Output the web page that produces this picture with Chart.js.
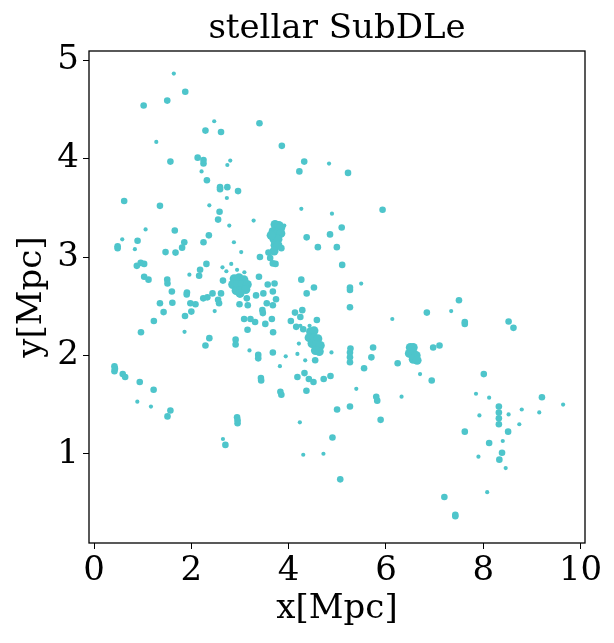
<!DOCTYPE html>
<html lang="en">
<head>
    <meta charset="UTF-8">
    <title>stellar SubDLe</title>
    <script src="https://cdn.jsdelivr.net/npm/chart.js"></script>
    <style>
        html, body {
            margin: 0;
            padding: 0;
            background: #ffffff;
        }
        #wrap {
            width: 614px;
            height: 643px;
        }
    </style>
</head>
<body>
<div id="wrap"><canvas id="scatter"></canvas></div>

<script>
    // axis ranges and ticks (Mpc)
    const xRange = [-0.103, 10.09];
    const yRange = [0.093, 5.094];
    const xTicks = [0, 2, 4, 6, 8, 10];
    const yTicks = [1, 2, 3, 4, 5];

    // tiny isolated particles
    const faintClumps = [
        [1.64, 4.865], [2.47, 4.38], [1.28, 4.17], [4.83, 3.95], [2.21, 3.87], [2.73, 3.60],
        [2.37, 3.525], [4.26, 3.49], [4.89, 3.44], [3.28, 3.37], [2.78, 3.32], [3.91, 3.32],
        [1.06, 3.28], [0.58, 3.18], [0.84, 3.08], [2.875, 3.15], [3.025, 3.05], [1.96, 2.82],
        [2.48, 2.45], [1.86, 2.24], [3.195, 2.05], [3.94, 1.99], [3.82, 1.89], [4.43, 2.30],
        [4.21, 2.12], [4.18, 2.015], [4.34, 1.95], [4.88, 2.03], [4.23, 1.32], [4.715, 1.0],
        [4.30, 0.99], [0.89, 1.53], [1.17, 1.48], [2.65, 1.15], [6.13, 2.37], [7.34, 2.45],
        [6.70, 1.81], [5.39, 1.66], [6.32, 1.58], [7.85, 1.61], [8.12, 1.57], [7.92, 1.39],
        [8.52, 1.40], [8.79, 1.45], [8.74, 1.30], [9.15, 1.42], [9.64, 1.50], [8.40, 1.13],
        [7.90, 0.97], [8.46, 0.855], [8.08, 0.61], [5.49, 2.73], [2.80, 3.98], [2.74, 3.935],
        [4.24, 2.30], [2.64, 2.895], [2.72, 2.855], [2.82, 2.93], [2.94, 2.87], [3.09, 2.845]
    ];

    // small halos / clumps
    const clumps = [
        [1.875, 4.68], [1.02, 4.54], [1.505, 4.59], [2.29, 4.285], [2.61, 4.27], [3.40, 4.36],
        [3.86, 4.13], [2.13, 4.01], [2.25, 3.985], [2.25, 3.95], [1.57, 3.97], [4.32, 3.97],
        [4.22, 3.87], [2.32, 3.78], [2.59, 3.71], [2.59, 3.69], [2.74, 3.71], [2.96, 3.67],
        [0.62, 3.57], [1.355, 3.52], [2.58, 3.46], [2.55, 3.38], [1.66, 3.27], [0.895, 3.165],
        [0.485, 3.11], [0.485, 3.09], [1.855, 3.15], [1.81, 3.095], [1.675, 3.045], [2.36, 3.22],
        [2.25, 3.15], [1.47, 3.05], [3.85, 3.09], [4.37, 3.20], [4.60, 3.10], [4.85, 3.23],
        [4.99, 3.10], [0.96, 2.94], [1.03, 2.93], [0.88, 2.91], [1.03, 2.80], [1.12, 2.77],
        [1.505, 2.77], [1.51, 2.73], [2.18, 2.87], [2.16, 2.81], [2.31, 2.93], [1.6, 2.65],
        [1.91, 2.64], [2.65, 2.76], [3.39, 2.80], [3.57, 2.72], [3.71, 2.73], [3.675, 2.65],
        [4.26, 2.77], [4.52, 2.69], [4.37, 2.63], [3.41, 3.00], [3.585, 3.045], [3.62, 2.99],
        [3.675, 2.935], [3.73, 2.93],
        [1.905, 2.62], [1.98, 2.53], [2.085, 2.52], [1.355, 2.53], [1.61, 2.535], [1.43, 2.44],
        [2.245, 2.58], [2.33, 2.59], [2.435, 2.63], [2.61, 2.63], [2.57, 2.53], [2.55, 2.565],
        [2.0, 2.445], [1.87, 2.40], [1.23, 2.35], [0.965, 2.235], [2.99, 2.52], [3.14, 2.58],
        [3.16, 2.51], [3.33, 2.61], [3.085, 2.37], [3.215, 2.37], [3.31, 2.34], [3.155, 2.26],
        [3.48, 2.63], [3.55, 2.53], [3.46, 2.46], [3.47, 2.43], [3.675, 2.51], [3.74, 2.57],
        [3.655, 2.37], [3.52, 2.32], [2.37, 2.175], [2.29, 2.10], [2.91, 2.16], [2.91, 2.11],
        [3.68, 2.235], [3.375, 2.005], [3.375, 1.97], [3.675, 2.03], [3.43, 1.77], [3.435, 1.745],
        [3.83, 1.63], [3.85, 1.60], [4.28, 2.46], [4.13, 2.435], [4.24, 2.39], [4.045, 2.35],
        [4.30, 2.265], [4.155, 2.29], [4.58, 2.36], [4.545, 1.95], [4.325, 1.82], [4.415, 1.76],
        [4.51, 1.73], [4.18, 1.78], [4.365, 1.64], [4.72, 1.76], [4.86, 1.79], [4.995, 1.45],
        [4.90, 1.165], [5.06, 0.74], [0.42, 1.89], [0.42, 1.84], [0.43, 1.865], [0.59, 1.81],
        [0.64, 1.78], [0.94, 1.73], [1.225, 1.65], [1.57, 1.44], [1.51, 1.38], [2.94, 1.37],
        [2.95, 1.31], [2.95, 1.34], [2.70, 1.09],
        [5.26, 2.665], [5.26, 2.49], [7.50, 2.56], [6.84, 2.435], [7.62, 2.34], [7.62, 2.32],
        [8.52, 2.345], [8.62, 2.28], [5.26, 1.93], [5.26, 1.98], [5.26, 2.03], [5.27, 2.07],
        [5.735, 2.08], [5.70, 1.98], [5.55, 1.87], [6.24, 1.92], [6.97, 2.08], [7.10, 2.10],
        [6.94, 1.745], [5.80, 1.58], [5.82, 1.54], [5.26, 1.48], [5.89, 1.345], [8.01, 1.81],
        [8.32, 1.48], [8.32, 1.42], [8.32, 1.36], [8.32, 1.30], [9.205, 1.575], [8.51, 1.225],
        [7.62, 1.225], [8.12, 1.11], [8.385, 1.01], [8.33, 0.94], [7.20, 0.56], [7.425, 0.365],
        [7.425, 0.38], [5.22, 3.855], [5.93, 3.48], [5.09, 3.30], [5.10, 2.92], [5.26, 2.69]
    ];

    // the big groups (many overlapping particles)
    const groups = [
        [3.72, 3.33], [3.80, 3.32], [3.84, 3.30], [3.68, 3.26], [3.78, 3.25], [3.84, 3.24],
        [3.70, 3.18], [3.78, 3.18], [3.72, 3.12], [3.78, 3.12], [3.70, 3.06], [3.64, 3.22],
        [2.88, 2.78], [2.98, 2.79], [3.08, 2.77], [2.85, 2.72], [2.95, 2.72], [3.05, 2.72],
        [3.15, 2.72], [2.92, 2.66], [3.02, 2.66], [3.12, 2.67], [3.0, 2.63],
        [4.45, 2.24], [4.52, 2.25], [4.42, 2.18], [4.52, 2.18], [4.60, 2.17], [4.48, 2.12],
        [4.57, 2.11], [4.65, 2.10], [4.55, 2.05], [4.63, 2.04],
        [6.50, 2.08], [6.56, 2.08], [6.48, 2.02], [6.56, 2.02], [6.62, 2.0], [6.56, 1.96],
        [6.64, 1.95]
    ];

    const teal = '#4ec5cb';
    const serif = '"DejaVu Serif", serif';
    const toXY = p => ({ x: p[0], y: p[1] });

    // frame round the plot area + title
    const framePlugin = {
        id: 'frame',
        afterDraw(chart) {
            const { ctx, chartArea: a } = chart;
            ctx.save();
            ctx.strokeStyle = '#000';
            ctx.lineWidth = 1.3;
            ctx.strokeRect(a.left, a.top, a.right - a.left, a.bottom - a.top);
            ctx.fillStyle = '#000';
            ctx.font = '34px ' + serif;
            ctx.textAlign = 'center';
            ctx.textBaseline = 'middle';
            ctx.fillText('stellar SubDLe', (a.left + a.right) / 2, 29);
            ctx.restore();
        }
    };

    new Chart(document.getElementById('scatter'), {
        type: 'scatter',
        data: {
            datasets: [
                { data: faintClumps.map(toXY), backgroundColor: teal, borderWidth: 0, pointRadius: 2.1 },
                { data: clumps.map(toXY), backgroundColor: teal, borderWidth: 0, pointRadius: 3.3 },
                { data: groups.map(toXY), backgroundColor: teal, borderWidth: 0, pointRadius: 4.5 }
            ]
        },
        options: {
            responsive: true,
            maintainAspectRatio: false,
            animation: false,
            layout: { padding: { top: 51, right: 29, left: 0, bottom: 0 } },
            plugins: {
                legend: { display: false },
                tooltip: { enabled: false }
            },
            scales: {
                x: {
                    type: 'linear',
                    min: xRange[0],
                    max: xRange[1],
                    afterBuildTicks: s => { s.ticks = xTicks.map(v => ({ value: v })); },
                    afterFit: s => { s.height = 100; },
                    grid: { drawOnChartArea: false, drawTicks: true, tickLength: 6, color: '#000' },
                    border: { display: false },
                    ticks: { color: '#000', font: { family: serif, size: 34 }, padding: 2, maxRotation: 0 },
                    title: { display: true, text: 'x[Mpc]', color: '#000', font: { family: serif, size: 34 }, padding: { top: 0, bottom: 13 } }
                },
                y: {
                    type: 'linear',
                    min: yRange[0],
                    max: yRange[1],
                    afterBuildTicks: s => { s.ticks = yTicks.map(v => ({ value: v })); },
                    afterFit: s => { s.width = 89; },
                    grid: { drawOnChartArea: false, drawTicks: true, tickLength: 6, color: '#000' },
                    border: { display: false },
                    ticks: { color: '#000', font: { family: serif, size: 34 }, padding: 4 },
                    title: { display: true, text: 'y[Mpc]', color: '#000', font: { family: serif, size: 34 }, padding: { top: 12, bottom: 0 } }
                }
            }
        },
        plugins: [framePlugin]
    });
</script>
</body>
</html>
